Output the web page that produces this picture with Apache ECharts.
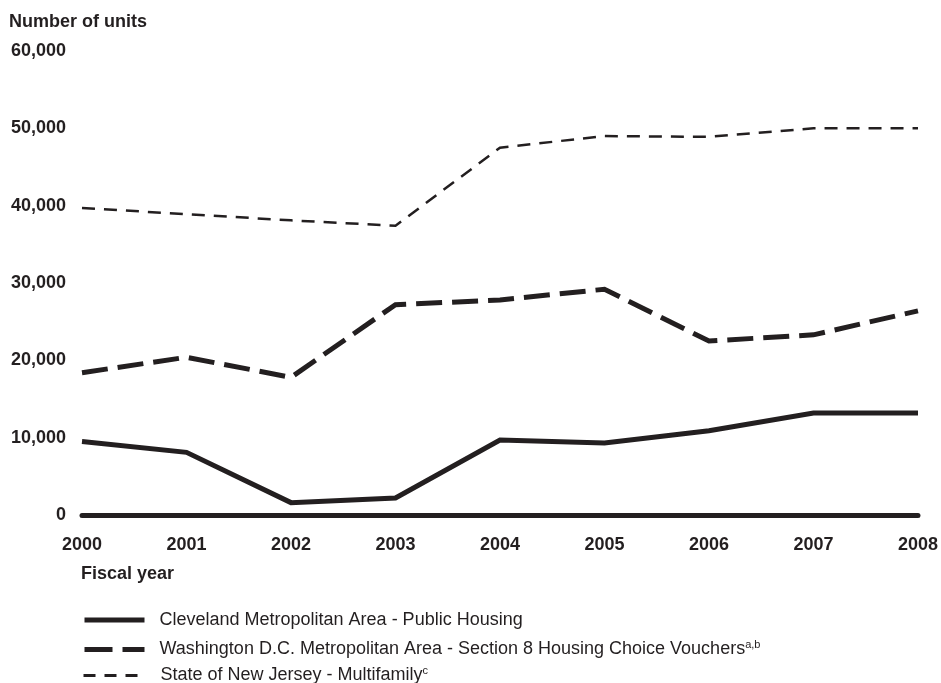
<!DOCTYPE html>
<html>
<head>
<meta charset="utf-8">
<script src="https://cdn.jsdelivr.net/npm/echarts@6/dist/echarts.min.js"></script>
<style>
html,body{margin:0;padding:0;background:#fff;}
#c{width:941px;height:683px;}
</style>
</head>
<body>
<div id="c"></div>
<script>
const years = ['2000','2001','2002','2003','2004','2005','2006','2007','2008'];
const seriesNames = [
  'Cleveland Metropolitan Area - Public Housing',
  'Washington D.C. Metropolitan Area - Section 8 Housing Choice Vouchers',
  'State of New Jersey - Multifamily'
];
const seriesNotes = ['', 'a,b', 'c'];
const cleveland = [9500, 8100, 1600, 2200, 9700, 9300, 10900, 13200, 13200];
const washington = [18400, 20400, 17800, 27200, 27800, 29200, 22500, 23300, 26400];
const newJersey = [39700, 38900, 38100, 37400, 47500, 49000, 48900, 50000, 50000];
const yTicks = [0, 10000, 20000, 30000, 40000, 50000, 60000];

const INK = '#231f20';
const FONT = '"Liberation Sans", Arial, sans-serif';

const legendLines = [
  {width: 5, type: 'solid', color: INK},
  {width: 5, type: [28, 10], color: INK},
  {width: 3, type: [12, 9], color: INK}
];
const legendTops = [611, 639, 665];

const legends = seriesNames.map((name, i) => ({
  orient: 'vertical',
  left: 82,
  top: legendTops[i],
  padding: 0,
  itemWidth: 60,
  itemHeight: 14,
  selectedMode: false,
  textStyle: {
    fontFamily: FONT, fontSize: 18, color: INK, padding: [0, 0, 0, i === 2 ? 12 : 10],
    rich: {sup: {fontFamily: FONT, fontSize: 11, color: INK, verticalAlign: 'top', padding: [0, 0, 10, 0]}}
  },
  formatter: n => seriesNotes[i] ? n + '{sup|' + seriesNotes[i] + '}' : n,
  data: [{name: name, itemStyle: {opacity: 0}, lineStyle: legendLines[i]}]
}));

const chart = echarts.init(document.getElementById('c'), null, {renderer: 'canvas'});
chart.setOption({
  animation: false,
  backgroundColor: '#fff',
  textStyle: {fontFamily: FONT, color: INK},
  title: [
    {text: 'Number of units', left: 9, top: 13, padding: 0,
     textStyle: {fontFamily: FONT, fontSize: 18, fontWeight: 'bold', color: INK}},
    {text: 'Fiscal year', left: 81, top: 565, padding: 0,
     textStyle: {fontFamily: FONT, fontSize: 18, fontWeight: 'bold', color: INK}}
  ],
  grid: {left: 82, right: 23, top: 51, bottom: 168, containLabel: false},
  xAxis: {
    type: 'category',
    data: years,
    boundaryGap: false,
    axisLine: {show: true, lineStyle: {color: INK, width: 5}},
    axisTick: {show: false},
    splitLine: {show: false},
    axisLabel: {fontFamily: FONT, fontSize: 18, fontWeight: 'bold', color: INK, margin: 21}
  },
  yAxis: {
    type: 'value',
    min: yTicks[0],
    max: yTicks[yTicks.length - 1],
    interval: yTicks[1] - yTicks[0],
    axisLine: {show: false},
    axisTick: {show: false},
    splitLine: {show: false},
    axisLabel: {
      fontFamily: FONT, fontSize: 18, fontWeight: 'bold', color: INK, margin: 16,
      formatter: v => v.toLocaleString('en-US')
    }
  },
  legend: legends,
  series: [
    {name: seriesNames[0], type: 'line', data: cleveland, symbol: 'none',
     lineStyle: {color: INK, width: 5, type: 'solid', join: 'miter'}, itemStyle: {color: INK}},
    {name: seriesNames[1], type: 'line', data: washington, symbol: 'none',
     lineStyle: {color: INK, width: 5, type: [26, 10], join: 'miter'}, itemStyle: {color: INK}},
    {name: seriesNames[2], type: 'line', data: newJersey, symbol: 'none',
     lineStyle: {color: INK, width: 2.5, type: [13, 9], join: 'miter'}, itemStyle: {color: INK}}
  ]
});
</script>
</body>
</html>
